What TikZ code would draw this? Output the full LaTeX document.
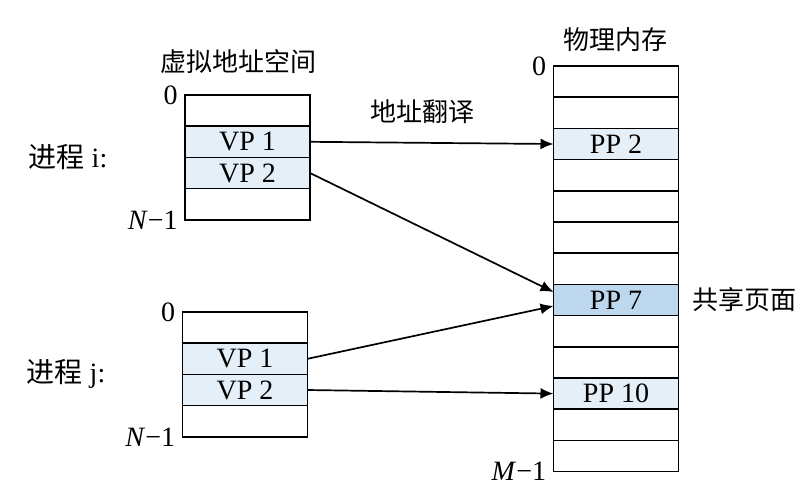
\documentclass[tikz,border=0pt]{standalone}
\usepackage{fontspec}
\setmainfont{Liberation Serif}
\newfontfamily\cjk{Noto Sans CJK SC}
\usepackage{xcolor}
\usetikzlibrary{arrows.meta,positioning}
\definecolor{lightpage}{RGB}{229,239,248}
\definecolor{sharedpage}{RGB}{188,215,238}

\begin{document}
\begin{tikzpicture}[
    x=0.5pt, y=-0.5pt,
    node distance=0pt,
    cell/.style={rectangle, draw, line width=0.85pt, minimum width=62.5pt, minimum height=15.6pt, inner sep=0pt, outer sep=0pt, font=\fontsize{14}{16}\selectfont},
    lbl/.style={inner sep=0pt, font=\fontsize{14}{16}\selectfont},
    cjklbl/.style={inner sep=0pt, font=\fontsize{13}{15}\selectfont\cjk},
    arrow/.style={-{Latex[length=6.5pt,width=5.5pt]}, line width=0.85pt}
]
\useasboundingbox (0,0) rectangle (807,499);

% Process i
\node[cell] (i1) at (247.5,110.6) {};
\node[cell, fill=lightpage, below=of i1] (i2) {VP 1};
\node[cell, fill=lightpage, below=of i2] (i3) {VP 2};
\node[cell, below=of i3] (i4) {};

\node[cjklbl] (vtitle) at (238,62) {虚拟地址空间};
\node[lbl, anchor=east] at ([xshift=-3.5pt]i1.north west) {0};
\node[lbl, anchor=east] at ([xshift=-3.5pt]i4.south west) {\textit{N}−1};
\node[lbl] (proci) at (68,157) {{\cjk 进程} i:};

% Process j
\node[cell] (j1) at (245,327.6) {};
\node[cell, fill=lightpage, below=of j1] (j2) {VP 1};
\node[cell, fill=lightpage, below=of j2] (j3) {VP 2};
\node[cell, below=of j3] (j4) {};

\node[lbl, anchor=east] at ([xshift=-3.5pt]j1.north west) {0};
\node[lbl, anchor=east] at ([xshift=-3.5pt]j4.south west) {\textit{N}−1};
\node[lbl] (procj) at (66,374) {{\cjk 进程} j:};

% Physical memory
\node[cell] (pm1) at (616,81.6) {};
\foreach \k [remember=\k as \prev (initially 1)] in {2,...,13}
    \node[cell, below=of pm\prev] (pm\k) {};
\node[cell, fill=lightpage] (pp2) at (pm3) {PP 2};
\node[cell, fill=sharedpage] (pp7) at (pm8) {PP 7};
\node[cell, fill=lightpage] (pp10) at (pm11) {PP 10};

\node[cjklbl] (ptitle) at (615,40) {物理内存};
\node[lbl, anchor=east] at ([xshift=-3.5pt]pm1.north west) {0};
\node[lbl, anchor=east] at ([xshift=-3.5pt]pm13.south west) {\textit{M}−1};
\node[cjklbl, right=7pt of pp7] (shared) {共享页面};

% Arrows
\draw[arrow] (i2.east) -- node[cjklbl, above=9pt, pos=0.46] {地址翻译} (pp2.west);
\draw[arrow] (i3.east) -- ([yshift=4pt]pp7.west);
\draw[arrow] (j2.east) -- ([yshift=-3pt]pp7.west);
\draw[arrow] (j3.east) -- (pp10.west);

\end{tikzpicture}
\end{document}
